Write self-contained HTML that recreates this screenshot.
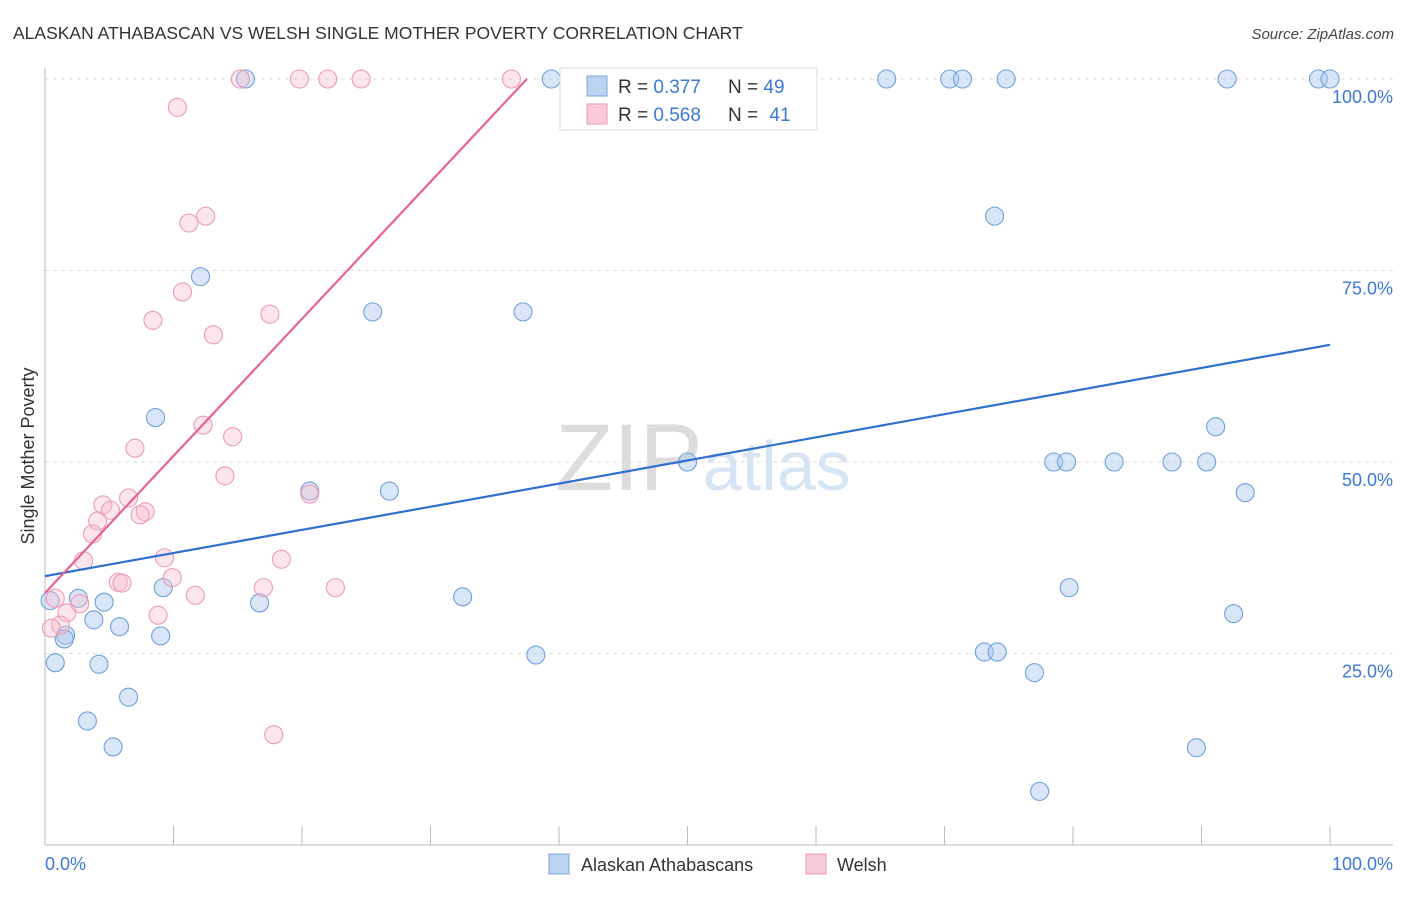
<!DOCTYPE html>
<html><head><meta charset="utf-8"><style>
body{margin:0;background:#fff;font-family:"Liberation Sans",sans-serif}
svg text{font-family:"Liberation Sans",sans-serif}
</style></head><body>
<svg id="chart" width="1406" height="892">
<text x="13" y="39" font-size="17.5" fill="#333">ALASKAN ATHABASCAN VS WELSH SINGLE MOTHER POVERTY CORRELATION CHART</text>
<text x="1394" y="39" font-size="15" fill="#444" font-style="italic" text-anchor="end">Source: ZipAtlas.com</text>
<text x="555" y="490" font-size="95" fill="#dcdcdc" font-family="Liberation Serif">ZIP<tspan fill="#d6e4f4" font-family="Liberation Sans" font-size="70">atlas</tspan></text>
<g id="grid"></g><g id="axes"></g><g id="pts"></g><g id="lines"></g>
<text transform="translate(34,456) rotate(-90)" font-size="18" fill="#333" text-anchor="middle">Single Mother Poverty</text>
<text x="45" y="870" font-size="18" fill="#3b78d8">0.0%</text>
<text x="1393" y="870" font-size="18" fill="#3b78d8" text-anchor="end">100.0%</text>
<g>
<rect x="560" y="68" width="257" height="62" fill="#fff" stroke="#ddd"/>
<rect x="587" y="76" width="20" height="20" fill="#bcd4f2" stroke="#7aa5dd"/>
<rect x="587" y="104" width="20" height="20" fill="#fbcad8" stroke="#ee9ab3"/>
<text x="618" y="93" font-size="19" fill="#333">R = <tspan fill="#3b78d8">0.377</tspan></text>
<text x="728" y="93" font-size="19" fill="#333">N = <tspan fill="#3b78d8">49</tspan></text>
<text x="618" y="121" font-size="19" fill="#333">R = <tspan fill="#3b78d8">0.568</tspan></text>
<text x="728" y="121" font-size="19" fill="#333">N = <tspan fill="#3b78d8" dx="6">41</tspan></text>
</g>
<g>
<rect x="549" y="854" width="20" height="20" fill="#bcd4f2" stroke="#7aa5dd"/>
<text x="581" y="871" font-size="18" fill="#333">Alaskan Athabascans</text>
<rect x="806" y="854" width="20" height="20" fill="#fbcad8" stroke="#ee9ab3"/>
<text x="837" y="871" font-size="18" fill="#333">Welsh</text>
</g>
</svg>
<script>
const blueX=[15.6,39.4,65.5,70.4,71.4,74.8,92.0,99.1,100,73.9,12.1,25.5,37.2,8.6,91.1,50.0,78.5,79.5,83.2,87.7,90.4,20.6,26.8,93.4,9.2,79.7,2.6,0.4,4.6,32.5,16.7,3.8,92.5,5.8,1.6,1.5,9.0,38.2,73.1,74.1,0.8,4.2,77.0,6.5,3.3,89.6,5.3,77.4];
const blueY=[100,100,100,100,100,100,100,100,100,82.1,74.2,69.6,69.6,55.8,54.6,50,50,50,50,50,50,46.2,46.2,46.0,33.6,33.6,32.2,31.9,31.7,32.4,31.6,29.4,30.2,28.5,27.4,26.9,27.3,24.8,25.2,25.2,23.8,23.6,22.5,19.3,16.2,12.7,12.8,7.0];
const pinkX=[15.2,19.8,22.0,24.6,36.3,10.3,12.5,11.2,10.7,8.4,17.5,13.1,12.3,14.6,7.0,14.0,20.6,6.5,4.5,5.1,4.1,7.8,7.4,3.7,9.3,3.0,18.4,9.9,5.7,6.0,11.7,17.0,22.6,8.8,2.7,1.7,0.8,1.2,0.5,17.8];
const pinkY=[100,100,100,100,100,96.3,82.1,81.2,72.2,68.5,69.3,66.6,54.8,53.3,51.8,48.2,45.8,45.3,44.4,43.7,42.3,43.5,43.1,40.6,37.5,37.1,37.3,34.9,34.3,34.2,32.6,33.6,33.6,30.0,31.5,30.3,32.2,28.7,28.3,14.4];
const blueTrend=[[0,35.1],[100,65.3]];
const pinkTrend=[[0,32.9],[37.5,100]];
const yTicks=[25,50,75,100];
const xTicks=[0,10,20,30,40,50,60,70,80,90,100];
const NS='http://www.w3.org/2000/svg';
const sx=v=>45+v*12.85, sy=v=>845-v*7.66;
function mk(p,t,a){const e=document.createElementNS(NS,t);for(const k in a)e.setAttribute(k,a[k]);document.getElementById(p).appendChild(e);return e;}
yTicks.forEach(t=>{
 const l=mk('grid','line',{x1:45,x2:1393,y1:sy(t),y2:sy(t),stroke:'#ddd','stroke-dasharray':'4,4'});
 
 
 const tx=mk('grid','text',{x:1393,y:sy(t)+24,'font-size':18,fill:'#3b78d8','text-anchor':'end'});
 tx.textContent=t.toFixed(1)+'%';
 
 
});
mk('axes','line',{x1:45,x2:45,y1:68,y2:845,stroke:'#bbb'});
mk('axes','line',{x1:45,x2:1393,y1:845,y2:845,stroke:'#bbb'});
xTicks.forEach(t=>{const l=mk('axes','line',{x1:sx(t),x2:sx(t),y1:826,y2:845,stroke:'#bbb'});
 
 });
blueX.forEach((x,i)=>{const c=mk('pts','circle',{cx:sx(x),cy:sy(blueY[i]),r:9,fill:'rgba(170,200,240,0.45)',stroke:'#6f9fdc','stroke-width':1.1});
 
 });
pinkX.forEach((x,i)=>{const c=mk('pts','circle',{cx:sx(x),cy:sy(pinkY[i]),r:9,fill:'rgba(248,190,208,0.4)',stroke:'#ec9bb4','stroke-width':1.1});
 
 });
const b=mk('lines','line',{x1:sx(blueTrend[0][0]),y1:sy(blueTrend[0][1]),x2:sx(blueTrend[1][0]),y2:sy(blueTrend[1][1]),stroke:'#2f6fd0','stroke-width':2.2});


const p=mk('lines','line',{x1:sx(pinkTrend[0][0]),y1:sy(pinkTrend[0][1]),x2:sx(pinkTrend[1][0]),y2:sy(pinkTrend[1][1]),stroke:'#ea6390','stroke-width':2.2});


</script>
</body></html>
